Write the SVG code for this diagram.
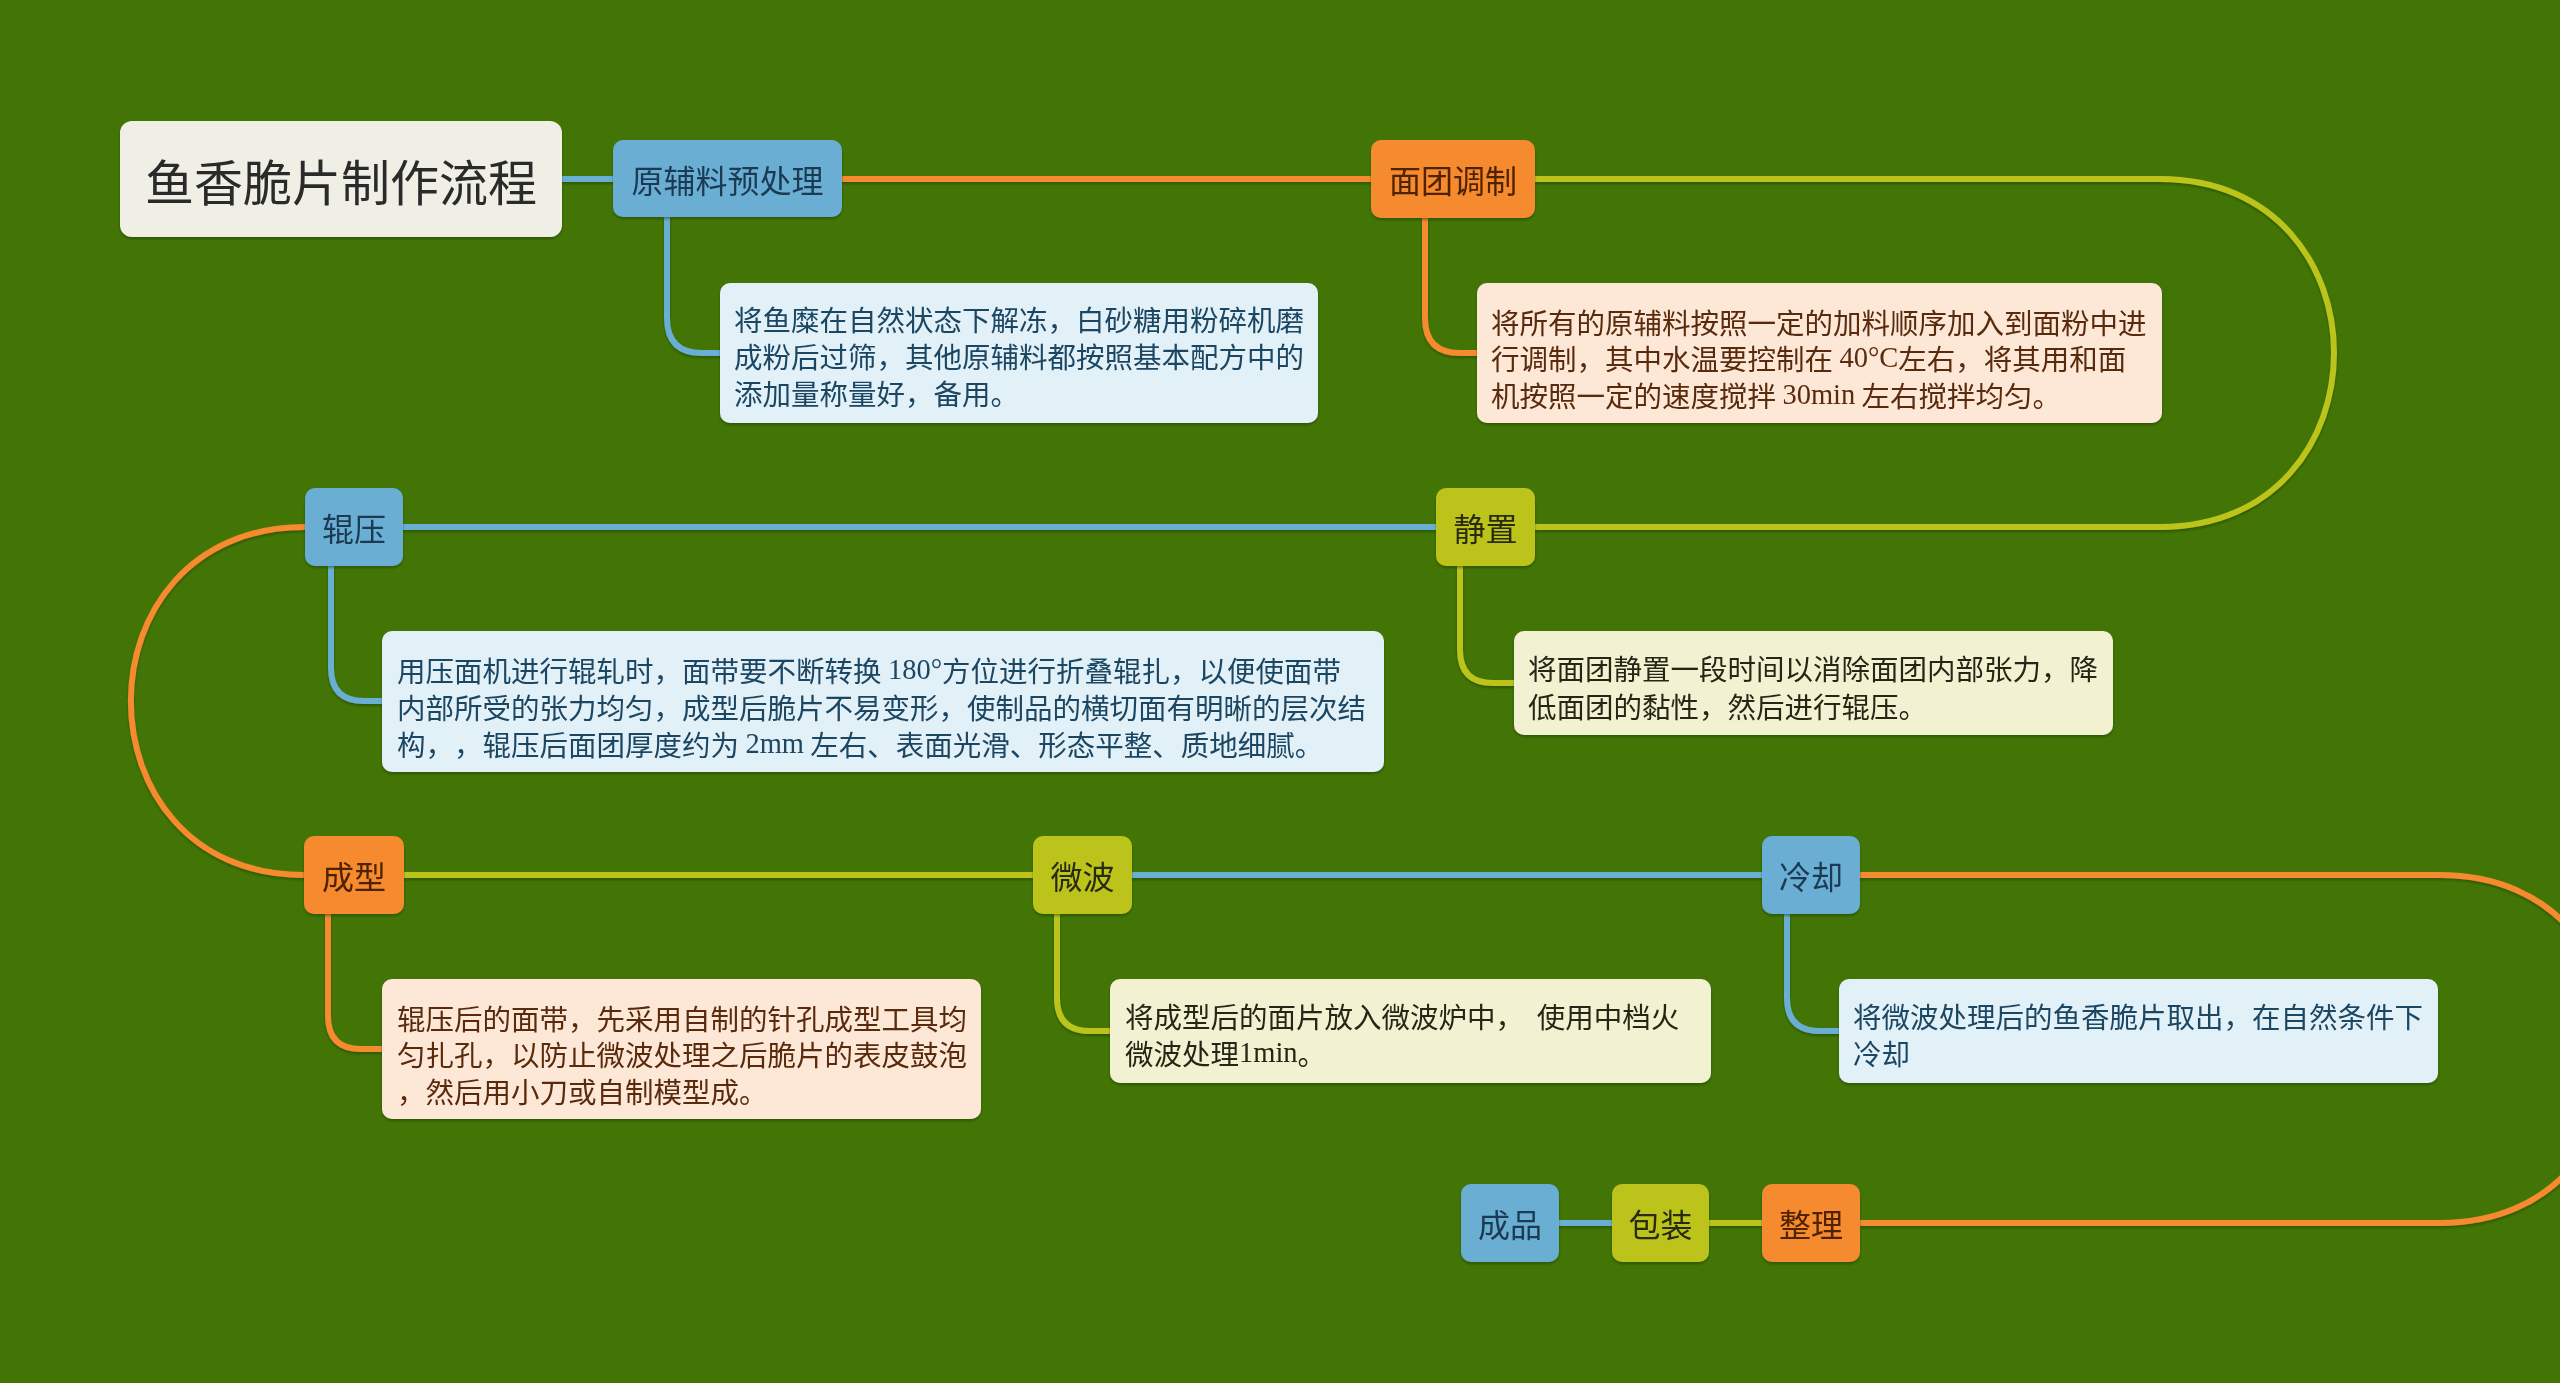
<svg xmlns="http://www.w3.org/2000/svg" width="2560" height="1383" viewBox="0 0 2560 1383">
<defs>
<filter id="sh" x="-10%" y="-10%" width="120%" height="130%">
<feDropShadow dx="0" dy="2" stdDeviation="1" flood-color="#1c3500" flood-opacity="0.45"/>
</filter>
<style>
text{font-family:"Noto Sans CJK SC","Noto Sans",sans-serif;text-spacing-trim:space-all;}
.ln{fill:none;stroke-width:6;stroke-linecap:round;}
.b{stroke:#6aafd3;} .o{stroke:#f58a2e;} .y{stroke:#bcc41d;}
.nb{fill:#6aafd3;} .no{fill:#f58a2e;} .ny{fill:#bcc41d;}
.t{font-size:32px;text-anchor:middle;dominant-baseline:central;}
.tb{fill:#1b3a52;} .to{fill:#4f2000;} .ty{fill:#2a2a10;}
.db{fill:#e2f0f8;} .dp{fill:#fde8d8;} .dy{fill:#f2f2d3;}
.d{font-size:28.5px;dominant-baseline:central;}
.dtb{fill:#1c4663;} .dtp{fill:#5a2a0c;} .dty{fill:#262614;}
.s{font-family:"Liberation Serif",serif;}
</style>
</defs>
<rect width="2560" height="1383" fill="#427505"/>
<g id="connectors" filter="url(#sh)">
<path class="ln b" d="M562,179 H613"/>
<path class="ln o" d="M842,179 H1371"/>
<path class="ln y" d="M1535,179 H2160 C2392,179 2392,527 2160,527 H1535"/>
<path class="ln b" d="M1436,527 H403"/>
<path class="ln o" d="M305,527 C73,527 73,875 304,875"/>
<path class="ln y" d="M404,875 H1033"/>
<path class="ln b" d="M1132,875 H1762"/>
<path class="ln o" d="M1860,875 H2440 C2672,875 2672,1223 2440,1223 H1860"/>
<path class="ln y" d="M1762,1223 H1709"/>
<path class="ln b" d="M1612,1223 H1559"/>
<path class="ln b" d="M667,217 V318 Q667,353 702,353 H720"/>
<path class="ln o" d="M1425,218 V318 Q1425,353 1460,353 H1477"/>
<path class="ln y" d="M1460,566 V650 Q1460,683 1493,683 H1514"/>
<path class="ln b" d="M331,566 V668 Q331,701 364,701 H382"/>
<path class="ln o" d="M328,914 V1016 Q328,1049 361,1049 H382"/>
<path class="ln y" d="M1057,914 V998 Q1057,1031 1090,1031 H1110"/>
<path class="ln b" d="M1787,913 V998 Q1787,1031 1820,1031 H1839"/>
</g>
<g id="root" filter="url(#sh)">
<rect x="120" y="121" width="442" height="116" rx="12" fill="#f0efe5"/>
<text x="341" y="179" style="font-size:49px;text-anchor:middle;dominant-baseline:central;fill:#2b2b2b">鱼香脆片制作流程</text>
</g>
<g id="n1" filter="url(#sh)">
<rect class="nb" x="613" y="140" width="229" height="77" rx="10"/>
<text class="t tb" x="727.5" y="178.5">原辅料预处理</text>
</g>
<g id="d1" filter="url(#sh)">
<rect class="db" x="720" y="283" width="598" height="140" rx="10"/>
<text class="d dtb" x="734" y="318">将鱼糜在自然状态下解冻，白砂糖用粉碎机磨</text>
<text class="d dtb" x="734" y="355">成粉后过筛，其他原辅料都按照基本配方中的</text>
<text class="d dtb" x="734" y="392">添加量称量好，备用。</text>
</g>
<g id="n2" filter="url(#sh)">
<rect class="no" x="1371" y="140" width="164" height="78" rx="10"/>
<text class="t to" x="1453" y="179">面团调制</text>
</g>
<g id="d2" filter="url(#sh)">
<rect class="dp" x="1477" y="283" width="685" height="140" rx="10"/>
<text class="d dtp" x="1491" y="321">将所有的原辅料按照一定的加料顺序加入到面粉中进</text>
<text class="d dtp" x="1491" y="357">行调制，其中水温要控制在 <tspan class="s">40°C</tspan>左右，将其用和面</text>
<text class="d dtp" x="1491" y="394">机按照一定的速度搅拌 <tspan class="s">30min</tspan> 左右搅拌均匀。</text>
</g>
<g id="n3" filter="url(#sh)">
<rect class="ny" x="1436" y="488" width="99" height="78" rx="10"/>
<text class="t ty" x="1485.5" y="527">静置</text>
</g>
<g id="d3" filter="url(#sh)">
<rect class="dy" x="1514" y="631" width="599" height="104" rx="10"/>
<text class="d dty" x="1528" y="667">将面团静置一段时间以消除面团内部张力，降</text>
<text class="d dty" x="1528" y="705">低面团的黏性，然后进行辊压。</text>
</g>
<g id="n4" filter="url(#sh)">
<rect class="nb" x="305" y="488" width="98" height="78" rx="10"/>
<text class="t tb" x="354" y="527">辊压</text>
</g>
<g id="d4" filter="url(#sh)">
<rect class="db" x="382" y="631" width="1002" height="141" rx="10"/>
<text class="d dtb" x="397" y="669">用压面机进行辊轧时，面带要不断转换 <tspan class="s">180°</tspan>方位进行折叠辊扎，以便使面带</text>
<text class="d dtb" x="397" y="706">内部所受的张力均匀，成型后脆片不易变形，使制品的横切面有明晰的层次结</text>
<text class="d dtb" x="397" y="743">构，，辊压后面团厚度约为 <tspan class="s">2mm</tspan> 左右、表面光滑、形态平整、质地细腻。</text>
</g>
<g id="n5" filter="url(#sh)">
<rect class="no" x="304" y="836" width="100" height="78" rx="10"/>
<text class="t to" x="354" y="875">成型</text>
</g>
<g id="d5" filter="url(#sh)">
<rect class="dp" x="382" y="979" width="599" height="140" rx="10"/>
<text class="d dtp" x="397" y="1017">辊压后的面带，先采用自制的针孔成型工具均</text>
<text class="d dtp" x="397" y="1053">匀扎孔，以防止微波处理之后脆片的表皮鼓泡</text>
<text class="d dtp" x="397" y="1090">，然后用小刀或自制模型成。</text>
</g>
<g id="n6" filter="url(#sh)">
<rect class="ny" x="1033" y="836" width="99" height="78" rx="10"/>
<text class="t ty" x="1082.5" y="875">微波</text>
</g>
<g id="d6" filter="url(#sh)">
<rect class="dy" x="1110" y="979" width="601" height="104" rx="10"/>
<text class="d dty" x="1125" y="1015" xml:space="preserve">将成型后的面片放入微波炉中，  使用中档火</text>
<text class="d dty" x="1125" y="1052">微波处理<tspan class="s">1min</tspan>。</text>
</g>
<g id="n7" filter="url(#sh)">
<rect class="nb" x="1762" y="836" width="98" height="78" rx="10"/>
<text class="t tb" x="1811" y="875">冷却</text>
</g>
<g id="d7" filter="url(#sh)">
<rect class="db" x="1839" y="979" width="599" height="104" rx="10"/>
<text class="d dtb" x="1853" y="1015">将微波处理后的鱼香脆片取出，在自然条件下</text>
<text class="d dtb" x="1853" y="1052">冷却</text>
</g>
<g id="n8" filter="url(#sh)">
<rect class="no" x="1762" y="1184" width="98" height="78" rx="10"/>
<text class="t to" x="1811" y="1223">整理</text>
</g>
<g id="n9" filter="url(#sh)">
<rect class="ny" x="1612" y="1184" width="97" height="78" rx="10"/>
<text class="t ty" x="1660.5" y="1223">包装</text>
</g>
<g id="n10" filter="url(#sh)">
<rect class="nb" x="1461" y="1184" width="98" height="78" rx="10"/>
<text class="t tb" x="1510" y="1223">成品</text>
</g>
</svg>
